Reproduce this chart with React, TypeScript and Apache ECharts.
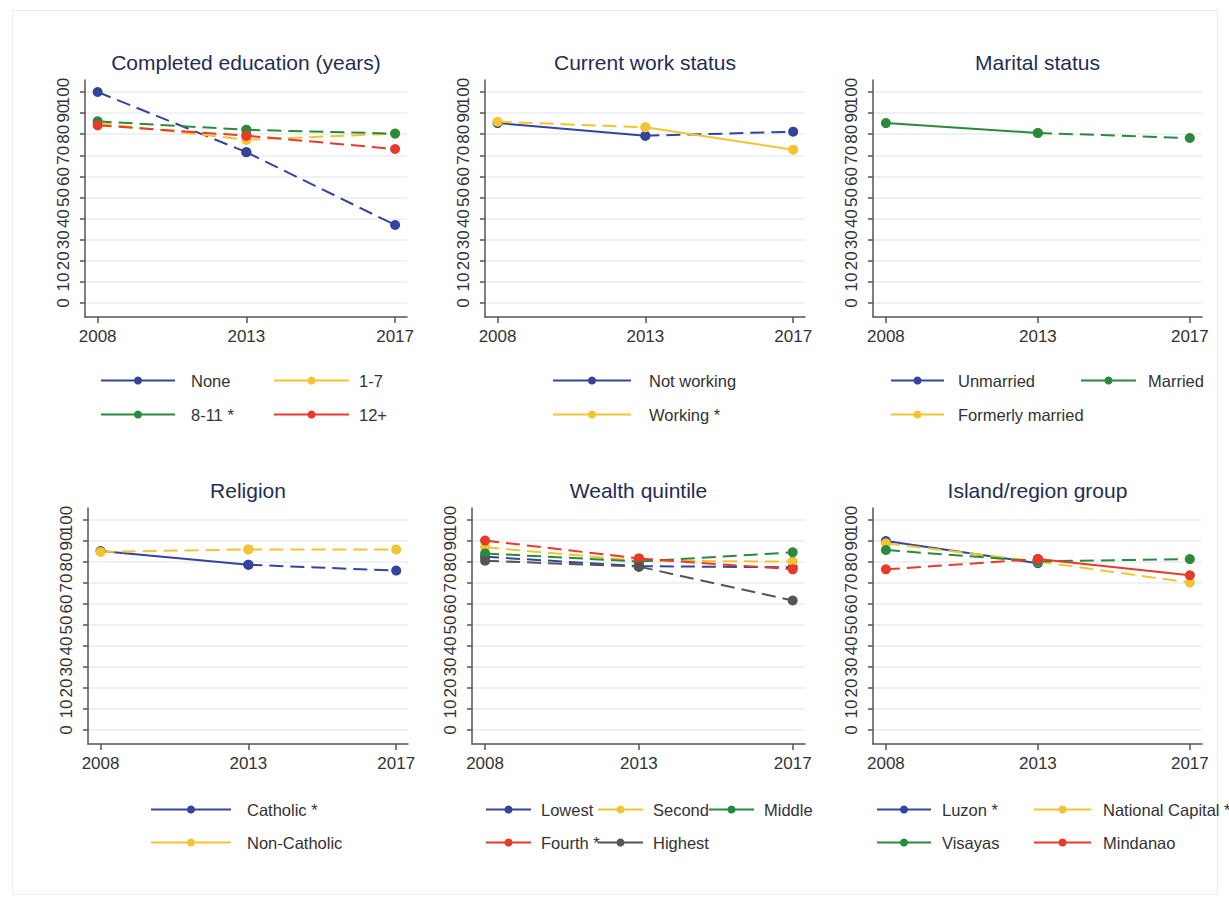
import React, { useEffect, useRef } from "react";
import * as echarts from "echarts";

// ---------- data ----------
const years = ["2008", "2013", "2017"];
const xTickIdx = [0, 1, 2];
const yTicks = [0, 10, 20, 30, 40, 50, 60, 70, 80, 90, 100];
const yLabelsMain = [0, 10, 20, 30, 40, 50, 60, 70, 80, 90];
const yLabelsTop = [100];

// Completed education (years)
const eduNone = [100, 71.5, 37];
const edu1to7 = [85.3, 77.4, 80.3];
const edu8to11 = [86.1, 82.1, 80.3];
const edu12plus = [84.2, 79.3, 73.0];
// Current work status
const workNot = [85.3, 79.3, 81.2];
const workYes = [85.9, 83.3, 72.7];
// Marital status
const marUnmarried: (number | null)[] = [null, null, null];
const marMarried = [85.3, 80.6, 78.2];
const marFormerly: (number | null)[] = [null, null, null];
// Religion
const relCatholic = [85.2, 78.7, 75.9];
const relNonCatholic = [84.8, 86.0, 86.0];
// Wealth quintile
const wLowest = [82.5, 78.0, 77.5];
const wSecond = [87.0, 80.6, 80.2];
const wMiddle = [84.1, 80.2, 84.6];
const wFourth = [90.2, 81.7, 76.5];
const wHighest = [80.6, 77.8, 61.7];
// Island/region group
const regLuzon: (number | null)[] = [90.0, 79.4, null];
const regNCR = [88.9, 80.2, 70.2];
const regVisayas = [85.7, 80.3, 81.4];
const regMindanao = [76.5, 81.4, 73.7];

// ---------- styles ----------
const COLORS: Record<string, string> = {
  blue: "#34449c",
  yellow: "#f3c431",
  green: "#2a8a3c",
  red: "#e8392b",
  gray: "#555555",
};
const FONT = "'Liberation Sans', Arial, sans-serif";

type Group = {
  name: string;
  values: (number | null)[];
  seg: ("s" | "d")[];
  color: string;
  leg: { left: number; w: number; textX: number; row: number };
};
type Panel = { title: string; left: number; width: number; row: 0 | 1; groups: Group[] };

const TOP_ROWS = [377, 411];
const BOT_ROWS = [806, 839];

const panels: Panel[] = [
  {
    title: "Completed education (years)", left: 85, width: 322, row: 0,
    groups: [
      { name: "None", values: eduNone, seg: ["d", "d"], color: "blue", leg: { left: 100, w: 74, textX: 190, row: TOP_ROWS[0] } },
      { name: "1-7", values: edu1to7, seg: ["d", "d"], color: "yellow", leg: { left: 273, w: 75, textX: 358, row: TOP_ROWS[0] } },
      { name: "8-11 *", values: edu8to11, seg: ["d", "d"], color: "green", leg: { left: 100, w: 74, textX: 190, row: TOP_ROWS[1] } },
      { name: "12+", values: edu12plus, seg: ["d", "d"], color: "red", leg: { left: 273, w: 75, textX: 358, row: TOP_ROWS[1] } },
    ],
  },
  {
    title: "Current work status", left: 485, width: 320, row: 0,
    groups: [
      { name: "Not working", values: workNot, seg: ["s", "d"], color: "blue", leg: { left: 552, w: 78, textX: 648, row: TOP_ROWS[0] } },
      { name: "Working *", values: workYes, seg: ["d", "s"], color: "yellow", leg: { left: 552, w: 78, textX: 648, row: TOP_ROWS[1] } },
    ],
  },
  {
    title: "Marital status", left: 873, width: 329, row: 0,
    groups: [
      { name: "Unmarried", values: marUnmarried, seg: ["s", "d"], color: "blue", leg: { left: 890, w: 53, textX: 957, row: TOP_ROWS[0] } },
      { name: "Married", values: marMarried, seg: ["s", "d"], color: "green", leg: { left: 1080, w: 55, textX: 1147, row: TOP_ROWS[0] } },
      { name: "Formerly married", values: marFormerly, seg: ["s", "d"], color: "yellow", leg: { left: 890, w: 53, textX: 957, row: TOP_ROWS[1] } },
    ],
  },
  {
    title: "Religion", left: 88, width: 320, row: 1,
    groups: [
      { name: "Catholic *", values: relCatholic, seg: ["s", "d"], color: "blue", leg: { left: 150, w: 80, textX: 246, row: BOT_ROWS[0] } },
      { name: "Non-Catholic", values: relNonCatholic, seg: ["d", "d"], color: "yellow", leg: { left: 150, w: 80, textX: 246, row: BOT_ROWS[1] } },
    ],
  },
  {
    title: "Wealth quintile", left: 472, width: 333, row: 1,
    groups: [
      { name: "Lowest", values: wLowest, seg: ["d", "d"], color: "blue", leg: { left: 485, w: 45, textX: 540, row: BOT_ROWS[0] } },
      { name: "Second", values: wSecond, seg: ["d", "d"], color: "yellow", leg: { left: 597, w: 45, textX: 652, row: BOT_ROWS[0] } },
      { name: "Middle", values: wMiddle, seg: ["d", "d"], color: "green", leg: { left: 708, w: 45, textX: 763, row: BOT_ROWS[0] } },
      { name: "Fourth *", values: wFourth, seg: ["d", "d"], color: "red", leg: { left: 485, w: 45, textX: 540, row: BOT_ROWS[1] } },
      { name: "Highest", values: wHighest, seg: ["d", "d"], color: "gray", leg: { left: 597, w: 45, textX: 652, row: BOT_ROWS[1] } },
    ],
  },
  {
    title: "Island/region group", left: 873, width: 329, row: 1,
    groups: [
      { name: "Luzon *", values: regLuzon, seg: ["s", "d"], color: "blue", leg: { left: 876, w: 54, textX: 941, row: BOT_ROWS[0] } },
      { name: "National Capital *", values: regNCR, seg: ["d", "d"], color: "yellow", leg: { left: 1033, w: 57, textX: 1102, row: BOT_ROWS[0] } },
      { name: "Visayas", values: regVisayas, seg: ["d", "d"], color: "green", leg: { left: 876, w: 54, textX: 941, row: BOT_ROWS[1] } },
      { name: "Mindanao", values: regMindanao, seg: ["d", "s"], color: "red", leg: { left: 1033, w: 57, textX: 1102, row: BOT_ROWS[1] } },
    ],
  },
];

const ROW_GRID = [
  { top: 80, height: 237, titleTop: 52 },
  { top: 508, height: 236, titleTop: 480 },
];
const Y_MIN = -6.6;
const Y_MAX = 105.7;
const X_MIN = -0.085;
const X_MAX = 2.08;
const LEG_H = 10;

function buildOption() {
  const grid: any[] = [];
  const xAxis: any[] = [];
  const yAxis: any[] = [];
  const title: any[] = [];
  const series: any[] = [];
  const legend: any[] = [];
  const axisLineStyle = { color: "#555", width: 1.5 };
  const yLabelStyle = { rotate: 90, fontSize: 17, color: "#333", margin: 13, fontFamily: FONT };

  panels.forEach((p, pi) => {
    const rg = ROW_GRID[p.row];
    grid.push({ left: p.left, width: p.width, top: rg.top, height: rg.height, containLabel: false });
    xAxis.push({
      type: "value", gridIndex: pi, min: X_MIN, max: X_MAX,
      axisLine: { show: true, onZero: false, lineStyle: axisLineStyle },
      axisTick: { show: true, customValues: xTickIdx, length: 6, lineStyle: axisLineStyle },
      axisLabel: {
        customValues: xTickIdx, formatter: (v: number) => years[Math.round(v)] ?? "",
        showMinLabel: true, showMaxLabel: true,
        fontSize: 17, color: "#333", margin: 11, fontFamily: FONT,
      },
      splitLine: { show: false },
    });
    // main y axis: line, ticks, grid lines, labels 0..90
    const mainIdx = yAxis.length;
    yAxis.push({
      type: "value", gridIndex: pi, min: Y_MIN, max: Y_MAX, position: "left", offset: 0,
      axisLine: { show: true, onZero: false, lineStyle: axisLineStyle },
      axisTick: { show: true, customValues: yTicks, length: 5, lineStyle: axisLineStyle },
      axisLabel: { ...yLabelStyle, customValues: yLabelsMain, showMinLabel: true, showMaxLabel: true },
      splitLine: { show: true, lineStyle: { color: "#eaeef2", width: 1.5 } },
    });
    // companion y axis on the same side carrying only the top label (100)
    yAxis.push({
      type: "value", gridIndex: pi, min: Y_MIN, max: Y_MAX, position: "left", offset: 0,
      axisLine: { show: false, onZero: false },
      axisTick: { show: false },
      axisLabel: { ...yLabelStyle, customValues: yLabelsTop, showMinLabel: true, showMaxLabel: true },
      splitLine: { show: false },
    });
    title.push({
      text: p.title, left: p.left + p.width / 2, top: rg.titleTop, textAlign: "center", padding: 0,
      textStyle: { fontSize: 21, fontWeight: "normal", color: "#1f2d55", fontFamily: FONT },
    });

    p.groups.forEach((g) => {
      const color = COLORS[g.color];
      let added = false;
      for (let i = 0; i < g.values.length - 1; i++) {
        const a = g.values[i];
        const b = g.values[i + 1];
        if (a == null || b == null) continue;
        added = true;
        series.push({
          type: "line", name: g.name, xAxisIndex: pi, yAxisIndex: mainIdx,
          data: [[i, a], [i + 1, b]],
          symbol: "circle", symbolSize: 10, showSymbol: true,
          lineStyle: { color, width: 2, type: g.seg[i] === "d" ? [14, 7] : "solid" },
          itemStyle: { color },
          emphasis: { disabled: true },
        });
      }
      if (!added) {
        const pts: any[] = [];
        g.values.forEach((v, i) => { if (v != null) pts.push([i, v]); });
        series.push({
          type: "line", name: g.name, xAxisIndex: pi, yAxisIndex: mainIdx, data: pts,
          symbol: "circle", symbolSize: 10, lineStyle: { color, width: 2 }, itemStyle: { color },
          emphasis: { disabled: true },
        });
      }
      const extra = Math.max(0, g.leg.textX - (g.leg.left + g.leg.w) - 5);
      legend.push({
        data: [g.name], left: g.leg.left, top: g.leg.row - LEG_H / 2, padding: 0,
        itemWidth: g.leg.w, itemHeight: LEG_H, selectedMode: false,
        lineStyle: { type: "solid", width: 2 },
        textStyle: { fontSize: 16.5, color: "#333", fontFamily: FONT, padding: [0, 0, 0, extra] },
      });
    });
  });

  return {
    animation: false,
    backgroundColor: "#ffffff",
    grid, xAxis, yAxis, title, series, legend,
    graphic: [
      {
        type: "rect", silent: true, z: -10,
        shape: { x: 12.5, y: 10.5, width: 1205, height: 884 },
        style: { fill: "none", stroke: "#ececec", lineWidth: 1 },
      },
    ],
  };
}

export default function App() {
  const ref = useRef<HTMLDivElement | null>(null);
  useEffect(() => {
    if (!ref.current) return;
    const chart = echarts.init(ref.current, undefined, { renderer: "svg" });
    chart.setOption(buildOption() as any);
    return () => chart.dispose();
  }, []);
  return (
    <div
      ref={ref}
      style={{ position: "absolute", left: 0, top: 0, width: 1229, height: 899, background: "#fff" }}
    />
  );
}
